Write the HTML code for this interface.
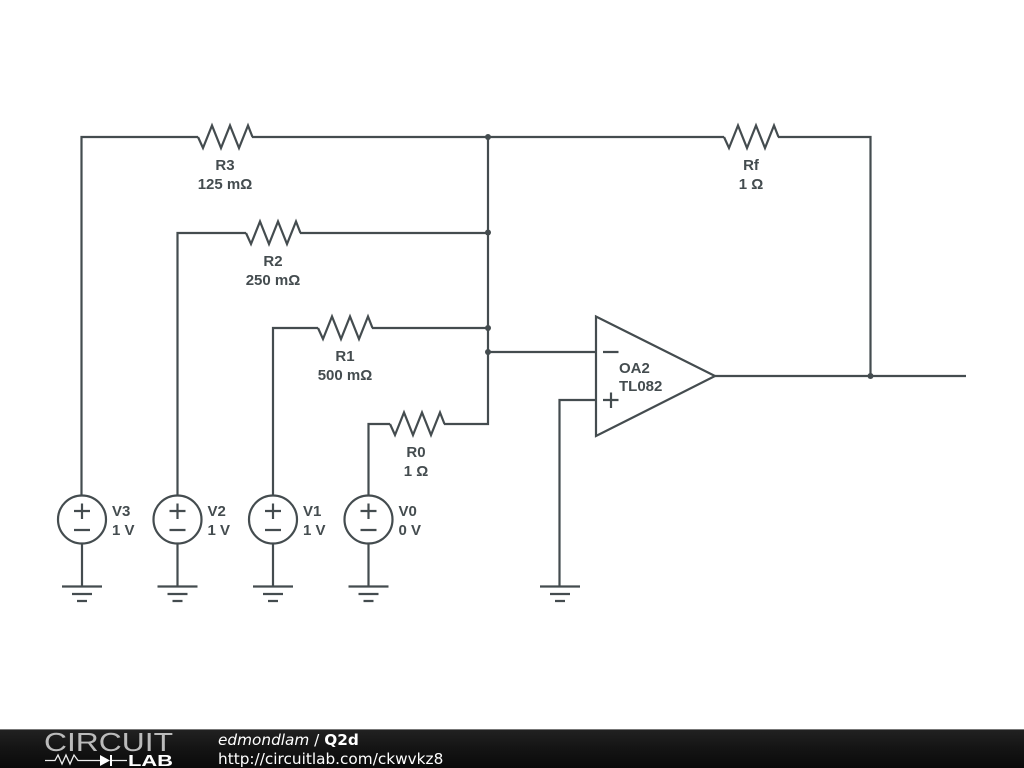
<!DOCTYPE html>
<html><head><meta charset="utf-8"><style>
html,body{margin:0;padding:0;background:#fff;width:1024px;height:768px;overflow:hidden}
svg{display:block}
.t{font:bold 15px "Liberation Sans",sans-serif;fill:#444c4f;text-anchor:middle}
.l{font:bold 15px "Liberation Sans",sans-serif;fill:#444c4f}
</style></head><body>
<svg width="1024" height="768" viewBox="0 0 1024 768" xmlns="http://www.w3.org/2000/svg">
<defs>
<linearGradient id="g" x1="0" y1="0" x2="0" y2="1"><stop offset="0" stop-color="#222"/><stop offset="0.5" stop-color="#141414"/><stop offset="1" stop-color="#0a0a0a"/></linearGradient>
</defs>
<g fill="none" stroke="#444c4f" stroke-width="2.200">
<!-- wires -->
<path d="M81.500 496V137H198M252 137H724M778 137H870.500V376"/>
<path d="M177.500 496V233H246M300 233H488"/>
<path d="M273 496V328H318M372 328H488"/>
<path d="M368.500 496V424H390M444 424H488V137"/>
<path d="M488 352H596M559.500 586V400H596M715 376H966"/>
<!-- resistors -->
<path d="M198 137L203 148L212 125.500L221 148L230 125.500L239 148L248 125.500L252.500 137"/>
<path d="M724 137L729 148L738 125.500L747 148L756 125.500L765 148L774 125.500L778.500 137"/>
<path d="M246 233L251 244L260 221.500L269 244L278 221.500L287 244L296 221.500L300.500 233"/>
<path d="M318 328L323 339L332 316.500L341 339L350 316.500L359 339L368 316.500L372.500 328"/>
<path d="M390 424L395 435L404 412.500L413 435L422 412.500L431 435L440 412.500L444.500 424"/>
<!-- sources -->
<circle cx="82" cy="519.500" r="24" fill="#fff"/>
<circle cx="177.500" cy="519.500" r="24" fill="#fff"/>
<circle cx="273" cy="519.500" r="24" fill="#fff"/>
<circle cx="368.500" cy="519.500" r="24" fill="#fff"/>
<path d="M74 511H90M82 503.500V519M74 530H90"/>
<path d="M169.500 511H185.500M177.500 503.500V519M169.500 530H185.500"/>
<path d="M265 511H281M273 503.500V519M265 530H281"/>
<path d="M360.500 511H376.500M368.500 503.500V519M360.500 530H376.500"/>
<!-- grounds -->
<path d="M82 543.500V586M62 586.500H102M72 594H92M77 601H87"/>
<path d="M177.500 543.500V586M157.500 586.500H197.500M167.500 594H187.500M172.500 601H182.500"/>
<path d="M273 543.500V586M253 586.500H293M263 594H283M268 601H278"/>
<path d="M368.500 543.500V586M348.500 586.500H388.500M358.500 594H378.500M363.500 601H373.500"/>
<path d="M540 586.500H580M550 594H570M555 601H565"/>
<!-- op amp -->
<path d="M596 316.500V436L715 376Z" fill="#fff"/>
<path d="M603 352H618.500M603 400H618.500M611 392.500V408"/>
</g>
<g fill="#444c4f">
<circle cx="488" cy="137" r="3"/><circle cx="488" cy="232.500" r="3"/><circle cx="488" cy="328" r="3"/><circle cx="488" cy="352" r="3"/><circle cx="870.500" cy="376" r="3"/>
</g>
<text class="t" x="225" y="170">R3</text><text class="t" x="225" y="189">125 mΩ</text>
<text class="t" x="751" y="170">Rf</text><text class="t" x="751" y="189">1 Ω</text>
<text class="t" x="273" y="266">R2</text><text class="t" x="273" y="285">250 mΩ</text>
<text class="t" x="345" y="361">R1</text><text class="t" x="345" y="380">500 mΩ</text>
<text class="t" x="416" y="457">R0</text><text class="t" x="416" y="476">1 Ω</text>
<text class="l" x="112" y="516">V3</text><text class="l" x="112" y="535">1 V</text>
<text class="l" x="207.500" y="516">V2</text><text class="l" x="207.500" y="535">1 V</text>
<text class="l" x="303" y="516">V1</text><text class="l" x="303" y="535">1 V</text>
<text class="l" x="398.500" y="516">V0</text><text class="l" x="398.500" y="535">0 V</text>
<text class="l" x="619" y="373">OA2</text><text class="l" x="619" y="391">TL082</text>
<!-- footer -->
<rect x="0" y="729" width="1024" height="39" fill="url(#g)"/>
<rect x="0" y="729" width="1024" height="1" fill="#777"/>
<text x="44" y="751" font-family="Liberation Sans, sans-serif" font-size="26" fill="#bbb" textLength="129" lengthAdjust="spacingAndGlyphs">CIRCUIT</text>
<path d="M45 760.500H55L58 755L62 764L66 755L70 764L74 755L78 760.500H100M111 760.500H127" fill="none" stroke="#eee" stroke-width="1.300"/>
<path d="M100 755V766L110 760.500Z" fill="#fff"/><rect x="110" y="755" width="2" height="11" fill="#fff"/>
<text x="128" y="766" font-family="Liberation Sans, sans-serif" font-size="15.500" font-weight="bold" fill="#fff" textLength="45" lengthAdjust="spacingAndGlyphs">LAB</text>
<text x="218" y="745" font-family="DejaVu Sans, sans-serif" font-size="15.300" fill="#fff"><tspan font-style="italic">edmondlam</tspan> / <tspan font-weight="bold">Q2d</tspan></text>
<text x="218" y="764" font-family="DejaVu Sans, sans-serif" font-size="15.300" fill="#fff">http://circuitlab.com/ckwvkz8</text>
</svg>
</body></html>
